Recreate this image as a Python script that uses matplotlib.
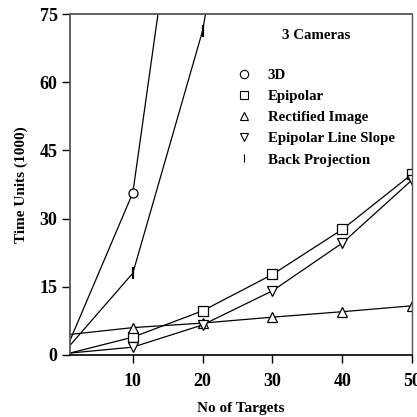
import matplotlib.pyplot as plt

plt.rcParams['font.family'] = ['Liberation Serif', 'DejaVu Serif']
plt.rcParams['font.weight'] = 'bold'

# data
x_start = [1, 10, 20, 30, 40, 50]
y_3d = [3.2, 35.7, 145]
y_epipolar = [0.4, 3.9, 9.7, 17.7, 27.6, 39.8]
y_rectified = [4.5, 6.0, 7.0, 8.3, 9.5, 10.8]
y_line_slope = [0.4, 1.7, 6.6, 14.1, 24.6, 38.5]
y_back_proj = [2.1, 18.0, 71.4, 160]

fig = plt.figure(figsize=(4.17, 4.17), dpi=100)
ax = fig.add_axes([0.168, 0.149, 0.82, 0.817])

kw = dict(color='black', lw=0.9, mfc='white', mec='black', ms=6.5, mew=0.9)
ax.plot(x_start[:len(y_3d)], y_3d, marker='o', markevery=[1], label='3D', **kw)
ax.plot(x_start, y_epipolar, marker='s', markevery=slice(1, None), label='Epipolar', **kw)
ax.plot(x_start, y_rectified, marker='^', markevery=slice(1, None), label='Rectified Image', **kw)
ax.plot(x_start, y_line_slope, marker='v', markevery=slice(1, None), label='Epipolar Line Slope', **kw)
ax.plot(x_start[:len(y_back_proj)], y_back_proj, color='black', lw=0.9, marker='|',
        ms=9, mew=1.6, markevery=[1, 2], label='Back Projection')

ax.set_xlim(1, 50)
ax.set_ylim(0, 75)
ax.set_xticks([10, 20, 30, 40, 50])
ax.set_yticks([0, 15, 30, 45, 60, 75])
ax.tick_params(labelsize=13, length=6, width=1, direction='out', pad=3)
ax.tick_params(axis='x', pad=7)
for s in ['left', 'top']:
    ax.spines[s].set_color('#555555')
    ax.spines[s].set_linewidth(1.3)
ax.spines['right'].set_color('#555555')
ax.spines['right'].set_linewidth(1.0)
ax.spines['bottom'].set_linewidth(1.2)

ax.set_xlabel('No of Targets', fontsize=11, fontweight='bold', labelpad=9)
ax.set_ylabel('Time Units (1000)', fontsize=11, fontweight='bold', labelpad=8)

leg = ax.legend(loc='upper left', bbox_to_anchor=(0.448, 0.995), frameon=False,
                title='3 Cameras', title_fontproperties={'weight': 'bold', 'size': 10.7},
                prop={'weight': 'bold', 'size': 10.7}, handlelength=1.0,
                handletextpad=1.1, labelspacing=0.52)
leg._legend_box.sep = 19
for h in leg.legend_handles:
    h.set_linestyle('none')
    h.set_markersize(6)
    h.set_markeredgewidth(0.8)

fig.savefig('out.png', dpi=100)
